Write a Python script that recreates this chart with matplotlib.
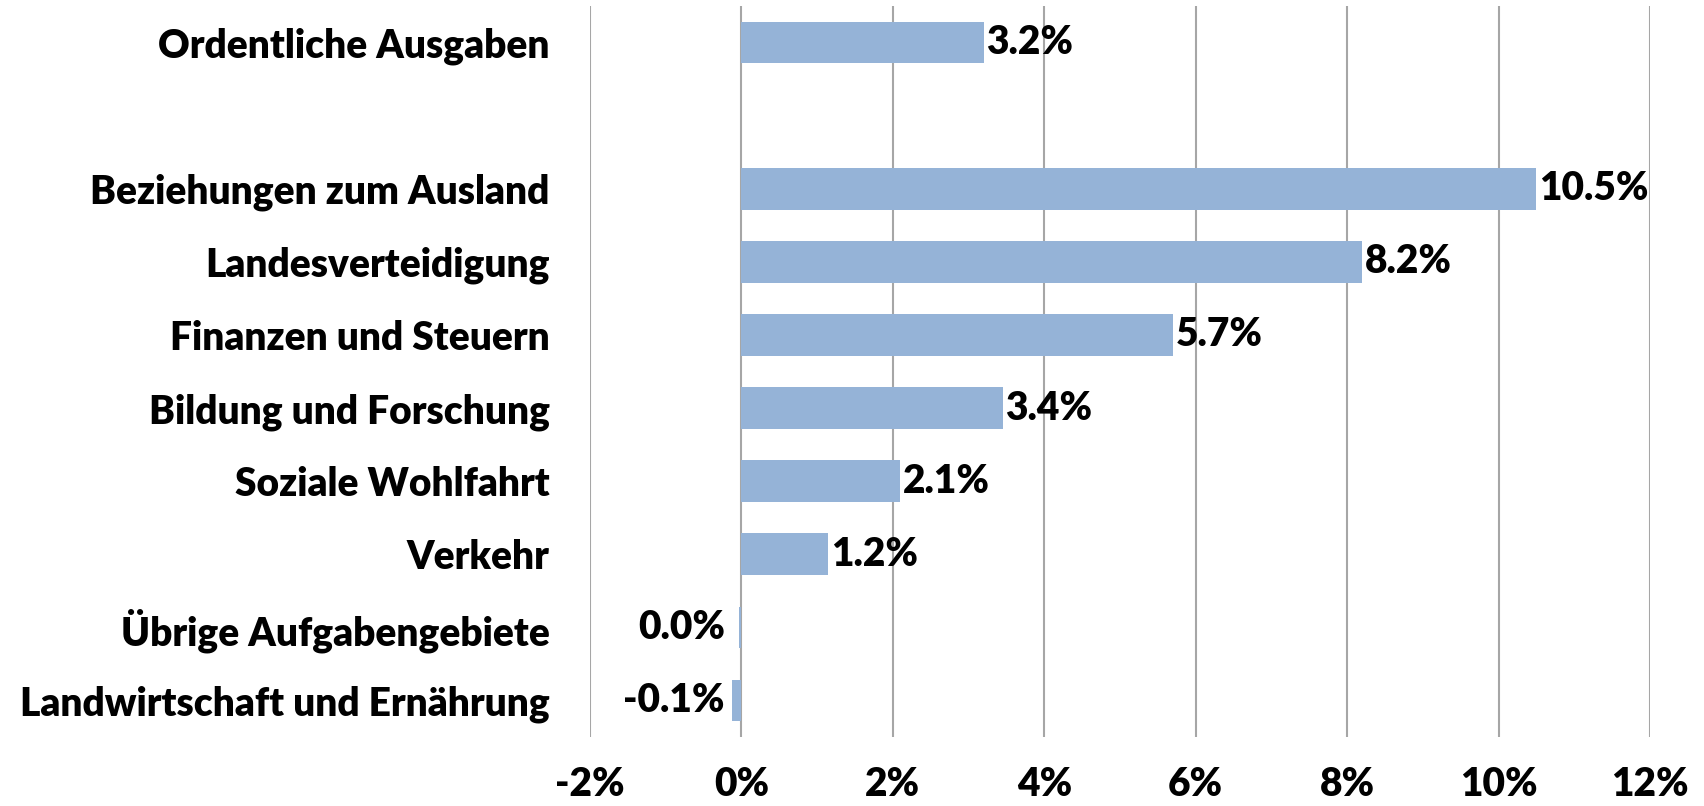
import matplotlib
matplotlib.use("Agg")
import matplotlib.pyplot as plt
from matplotlib.ticker import FuncFormatter

categories = ["Ordentliche Ausgaben", "", "Beziehungen zum Ausland", "Landesverteidigung",
              "Finanzen und Steuern", "Bildung und Forschung", "Soziale Wohlfahrt",
              "Verkehr", "Übrige Aufgabengebiete", "Landwirtschaft und Ernährung"]
values = [3.2, None, 10.5, 8.2, 5.7, 3.45, 2.1, 1.15, -0.03, -0.13]
value_labels = ["3.2%", "", "10.5%", "8.2%", "5.7%", "3.4%", "2.1%", "1.2%", "0.0%", "-0.1%"]
xticks = [-2, 0, 2, 4, 6, 8, 10, 12]

FONT = "Lato"
FS = 28
bar_color = "#95B3D7"
grid_color = "#A6A6A6"

fig = plt.figure(figsize=(17.04, 8.06), dpi=100)
ax = fig.add_axes([590/1704, 1-737/806, (1650-590)/1704, (737-6)/806])

pos = list(range(len(categories)))
for p, v, lab in zip(pos, values, value_labels):
    if v is None:
        continue
    ax.barh(p, v, height=0.57, color=bar_color, zorder=3)
    if v >= 0:
        ax.annotate(lab, xy=(v, p), xytext=(2, 0), textcoords="offset points",
                    ha="left", va="center", fontsize=FS, fontweight="heavy",
                    family=FONT, color="black", zorder=4)
    else:
        ax.annotate(lab, xy=(min(v, -0.2), p), xytext=(-1, 0), textcoords="offset points",
                    ha="right", va="center", fontsize=FS, fontweight="heavy",
                    family=FONT, color="black", zorder=4)

ax.set_xlim(-2, 12)
ax.set_ylim(len(categories) - 0.5, -0.5)
ax.set_xticks(xticks)
ax.xaxis.set_major_formatter(FuncFormatter(lambda x, _: f"{x:.0f}%"))
ax.set_yticks(pos)
ax.set_yticklabels(categories)
for spine in ax.spines.values():
    spine.set_visible(False)
ax.grid(axis="x", color=grid_color, linewidth=1.5, zorder=0)
ax.tick_params(axis="both", length=0)
ax.tick_params(axis="y", pad=29)
ax.tick_params(axis="x", pad=21)
for t in ax.get_xticklabels() + ax.get_yticklabels():
    t.set_fontsize(FS)
    t.set_fontweight("heavy")
    t.set_family(FONT)

fig.savefig("out.png", dpi=100)
